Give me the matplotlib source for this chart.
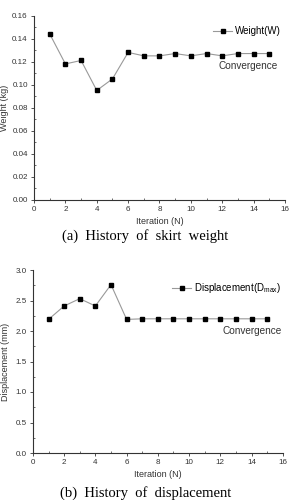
import matplotlib
matplotlib.use('Agg')
import matplotlib.pyplot as plt
from matplotlib.ticker import MultipleLocator, FormatStrFormatter

iterations = list(range(1, 16))
weight = [0.144, 0.118, 0.121, 0.095, 0.105, 0.128, 0.125, 0.125,
          0.127, 0.125, 0.127, 0.125, 0.127, 0.127, 0.127]
displacement = [2.19, 2.41, 2.53, 2.41, 2.76, 2.19, 2.20, 2.20,
                2.20, 2.20, 2.20, 2.20, 2.20, 2.20, 2.20]

plt.rcParams['font.family'] = ['Liberation Sans', 'DejaVu Sans']

fig = plt.figure(figsize=(2.91, 5.0), dpi=100)
ax1 = fig.add_axes([0.117, 0.60, 0.862, 0.369])
ax2 = fig.add_axes([0.113, 0.094, 0.859, 0.366])


def style_axis(ax, ymax, ystep, yfmt):
    ax.set_xlim(0, 16)
    ax.set_ylim(0, ymax)
    ax.spines['top'].set_visible(False)
    ax.spines['right'].set_visible(False)
    for s in ('left', 'bottom'):
        ax.spines[s].set_linewidth(0.8)
        ax.spines[s].set_color('#333333')
    ax.xaxis.set_major_locator(MultipleLocator(2))
    ax.xaxis.set_minor_locator(MultipleLocator(1))
    ax.yaxis.set_major_locator(MultipleLocator(ystep))
    ax.yaxis.set_minor_locator(MultipleLocator(ystep / 2))
    ax.yaxis.set_major_formatter(FormatStrFormatter(yfmt))
    ax.tick_params(which='major', direction='out', length=2.5, width=0.6,
                   labelsize=5.8, pad=2, colors='#333333')
    ax.tick_params(which='minor', direction='in', length=1.5, width=0.5,
                   colors='#333333')
    ax.set_xlabel('Iteration (N)', fontsize=6.5, labelpad=3, color='#333333')


# (a) weight history
ax1.plot(iterations, weight, color='#999999', linewidth=0.8, marker='s',
         markersize=3.4, markerfacecolor='black', markeredgecolor='black',
         label='Weight(W)')
style_axis(ax1, 0.16, 0.02, '%.2f')
ax1.set_ylabel('Weight (kg)', fontsize=6.5, labelpad=2, color='#333333')
ax1.legend(loc='upper right', bbox_to_anchor=(1.02, 0.99), frameon=False,
           fontsize=7, handlelength=2.0, handletextpad=0.3)
ax1.text(0.853, 0.727, 'Convergence', transform=ax1.transAxes,
         ha='center', va='center', fontsize=7.2, color='#333333')

# (b) displacement history
ax2.plot(iterations, displacement, color='#999999', linewidth=0.8, marker='s',
         markersize=3.4, markerfacecolor='black', markeredgecolor='black',
         label=r'Displacement(D$_{\mathregular{max}}$)')
style_axis(ax2, 3.0, 0.5, '%.1f')
ax2.set_ylabel('Displacement (mm)', fontsize=6.5, labelpad=4, color='#333333')
ax2.legend(loc='upper right', bbox_to_anchor=(1.03, 0.985), frameon=False,
           fontsize=7, handlelength=2.0, handletextpad=0.3)
ax2.text(0.876, 0.667, 'Convergence', transform=ax2.transAxes,
         ha='center', va='center', fontsize=7.2, color='#333333')

# captions
fig.text(0.5, 0.528, '(a)  History  of  skirt  weight', ha='center', va='center',
         fontsize=10.5, family='Liberation Serif')
fig.text(0.5, 0.013, '(b)  History  of  displacement', ha='center', va='center',
         fontsize=10.5, family='Liberation Serif')

fig.savefig('out.png', dpi=100)
